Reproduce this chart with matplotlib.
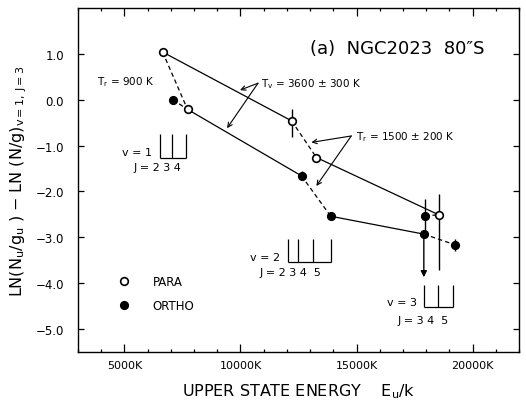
import matplotlib
matplotlib.use("Agg")
import matplotlib.pyplot as plt
from matplotlib.lines import Line2D
from matplotlib.ticker import MultipleLocator, FixedLocator

# ---------------- data ----------------
para_E = [6645, 7718, 12201, 13274, 18543]
para_y = [1.04, -0.21, -0.46, -1.26, -2.51]
para_err_lo = [0, 0, 0.36, 0, 1.21]
para_err_hi = [0, 0, 0.25, 0, 0.46]

ortho_E = [7091, 12630, 13888, 17950, 17900, 19232]
ortho_y = [0.00, -1.66, -2.54, -2.53, -2.93, -3.16]
ortho_err_lo = [0, 0.10, 0, 0.40, 0, 0.13]
ortho_err_hi = [0, 0.10, 0, 0.37, 0, 0.13]
ortho_upper_limit_to = -3.87   # arrow end for ortho point 4

# connections: (series_a, idx_a, series_b, idx_b)
solid_links = [("p", 0, "p", 2), ("p", 3, "p", 4), ("p", 1, "o", 1), ("o", 2, "o", 4)]
dashed_links = [("p", 0, "p", 1), ("p", 2, "p", 3), ("o", 0, "p", 1),
                ("o", 1, "o", 2), ("o", 3, "p", 4), ("o", 4, "o", 5)]

ladder_v1 = [6546, 7060, 7660]
ladder_v2 = [12055, 12485, 13129, 13888]
ladder_v3 = [17924, 18496, 19170]

x_ticks = [5000, 10000, 15000, 20000]
x_ticklabels = ["5000K", "10000K", "15000K", "20000K"]
y_ticks = [1.0, 0.0, -1.0, -2.0, -3.0, -4.0, -5.0]
y_ticklabels = ["1.0", "0.0", "\u22121.0", "\u22122.0", "\u22123.0", "\u22124.0", "\u22125.0"]

# ---------------- figure ----------------
plt.rcParams['font.family'] = ['DejaVu Sans']
fig = plt.figure(figsize=(5.26, 4.02), dpi=100)
ax = fig.add_axes([78/526, 1-353/402, 441/526, 344/402])
ax.set_xlim(3000, 22000)
ax.set_ylim(-5.5, 2.0)

pts = {"p": (para_E, para_y), "o": (ortho_E, ortho_y)}

def link(lst, **kw):
    for a, i, b, j in lst:
        ax.plot([pts[a][0][i], pts[b][0][j]], [pts[a][1][i], pts[b][1][j]],
                color="black", zorder=2, **kw)

link(solid_links, lw=0.9, ls="-")
link(dashed_links, lw=0.9, ls=(0, (3.5, 2.5)))

ax.errorbar(para_E, para_y, yerr=[para_err_lo, para_err_hi], fmt="o", ms=5.5,
            mfc="white", mec="black", mew=1.2, ecolor="black", elinewidth=1.0,
            capsize=0, zorder=4)
ax.errorbar(ortho_E, ortho_y, yerr=[ortho_err_lo, ortho_err_hi], fmt="o", ms=5.6,
            mfc="black", mec="black", mew=1.0, ecolor="black", elinewidth=1.0,
            capsize=0, zorder=4)
ax.annotate("", xy=(ortho_E[4], ortho_upper_limit_to), xytext=(ortho_E[4], ortho_y[4]),
            arrowprops=dict(arrowstyle="-|>", color="black", lw=1.0,
                            mutation_scale=9, shrinkA=0, shrinkB=0), zorder=3)

# ladders
def ladder(E, ytop, ybot):
    ax.vlines(E, ybot, ytop, color="black", lw=0.9)
    ax.hlines(ybot, min(E), max(E), color="black", lw=0.9)

ladder(ladder_v1, -0.75, -1.27)
ladder(ladder_v2, -3.03, -3.54)
ladder(ladder_v3, -4.05, -4.52)

fs = 8
ax.text(4901, -1.15, "v = 1", fontsize=fs, va="center", ha="left")
ax.text(5386, -1.46, "J = 2 3 4", fontsize=fs, va="center", ha="left")
ax.text(10410, -3.42, "v = 2", fontsize=fs, va="center", ha="left")
ax.text(10840, -3.76, "J = 2 3 4  5", fontsize=fs, va="center", ha="left")
ax.text(16293, -4.42, "v = 3", fontsize=fs, va="center", ha="left")
ax.text(16765, -4.80, "J = 3 4  5", fontsize=fs, va="center", ha="left")

# title-like label
ax.text(12987, 1.12, "(a)  NGC2023  80\u2033S", fontsize=13, va="center", ha="left")

# temperature annotations
ax.text(3798, 0.41, "T$_\\mathrm{r}$ = 900 K", fontsize=7.5, va="center", ha="left")
ax.text(10900, 0.36, "T$_\\mathrm{v}$ = 3600 \u00b1 300 K", fontsize=7.5, va="center", ha="left")
ax.text(14988, -0.79, "T$_\\mathrm{r}$ = 1500 \u00b1 200 K", fontsize=7.5, va="center", ha="left")

ap = dict(arrowstyle="->", color="black", lw=0.8, mutation_scale=8, shrinkA=0, shrinkB=0)
for tip in [(9981, 0.21), (9423, -0.62)]:
    ax.annotate("", xy=tip, xytext=(10754, 0.36), arrowprops=ap)
for tip in [(13055, -0.93), (13270, -1.88)]:
    ax.annotate("", xy=tip, xytext=(14773, -0.79), arrowprops=ap)

# legend
handles = [Line2D([], [], ls="none", marker="o", ms=5.5, mfc="white", mec="black", mew=1.2),
           Line2D([], [], ls="none", marker="o", ms=5.6, mfc="black", mec="black")]
ax.legend(handles, ["PARA", "ORTHO"], loc="center left", frameon=False,
          bbox_to_anchor=(0.075, 0.17), fontsize=8.5, handlelength=1.2,
          handletextpad=1.8, labelspacing=0.95, borderpad=0)

# ticks
ax.xaxis.set_major_locator(FixedLocator(x_ticks))
ax.set_xticklabels(x_ticklabels, fontsize=8)
ax.xaxis.set_minor_locator(MultipleLocator(1000))
ax.yaxis.set_major_locator(FixedLocator(y_ticks))
ax.set_yticklabels(y_ticklabels, fontsize=8.5)
ax.tick_params(axis="both", which="both", direction="in", top=True, right=True, width=0.9)
ax.tick_params(axis="x", which="major", length=6, pad=6)
ax.tick_params(axis="x", which="minor", length=2.5)
ax.tick_params(axis="y", which="major", length=4.5, pad=10)
for s in ax.spines.values():
    s.set_linewidth(1.0)

ax.set_xlabel("UPPER STATE ENERGY    E$_\\mathrm{u}$/k", fontsize=11.5)
ax.xaxis.set_label_coords(0.5, -0.085)
ax.xaxis.label.set_va("top")
ax.set_ylabel("LN(N$_\\mathrm{u}$/g$_\\mathrm{u}$ ) \u2212 LN (N/g)$_{\\mathrm{v=1,\\,J=3}}$", fontsize=11.5)
ax.yaxis.set_label_coords(-0.11, 0.5)

fig.savefig("out.png", dpi=100)
